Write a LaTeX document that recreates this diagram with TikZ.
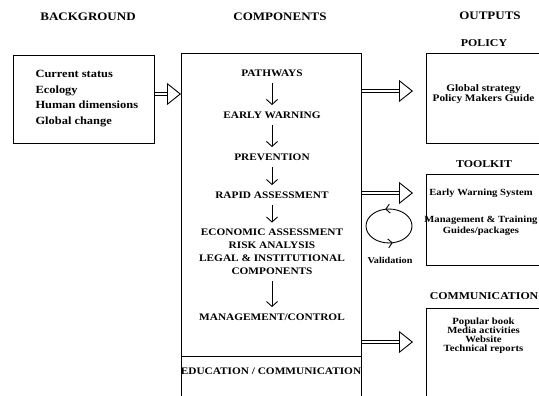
\documentclass[tikz,border=0pt]{standalone}
\usepackage{fontspec}
\setmainfont{Liberation Serif}[FakeStretch=1.13]
\usetikzlibrary{arrows.meta,positioning,shapes.geometric,decorations.markings}
\tikzset{
  box/.style      = {draw, line width=1.1pt, inner sep=0pt, anchor=north west},
  colhead/.style  = {font=\bfseries\fontsize{11.5}{13}\selectfont},
  subhead/.style  = {font=\bfseries\fontsize{10.5}{12}\selectfont},
  stage/.style    = {font=\bfseries\fontsize{10}{13}\selectfont, align=center},
  bgtext/.style   = {font=\bfseries\fontsize{11}{15.5}\selectfont, align=left, anchor=west},
  outtext/.style  = {font=\bfseries\fontsize{10}{10.5}\selectfont, align=center},
  flow/.style     = {-{Straight Barb[length=5pt,width=11pt]}, line width=0.9pt, shorten <=3pt, shorten >=3pt},
  shaft/.style    = {double, double distance=2.2pt, line width=0.7pt, shorten >=14pt},
  headtip/.style  = {white, line width=0.4pt, -{Triangle[open, color=black, length=14pt, width=22pt, line width=0.9pt]}},
  cycle/.style    = {line width=0.9pt, postaction={decorate}}
}

\begin{document}
\begin{tikzpicture}[x=1pt, y=-1pt]
    \useasboundingbox (0,0) rectangle (539,396);
    \clip (0,0) rectangle (539,396);
    % Column headings
    \node[colhead] (hbg) at (88,17) {BACKGROUND};
    \node[colhead] (hcomp) at (280,17) {COMPONENTS};
    \node[colhead] (hout) at (490,16) {OUTPUTS};
    % Background
    \node[box, minimum width=141pt, minimum height=88pt] (bg) at (13,55) {};
    \node[bgtext] (bgitems) at (32,98.5) {Current status\\Ecology\\Human dimensions\\Global change};
    % Components
    \node[box, minimum width=180pt, minimum height=303pt] (comp) at (181,53) {};
    \node[box, minimum width=180pt, minimum height=60pt] (edubox) at (181,356) {};
    \node[stage] (path) at (272,73) {PATHWAYS};
    \node[stage] (early) at (272,115) {EARLY WARNING};
    \node[stage] (prev) at (272,157) {PREVENTION};
    \node[stage] (rapid) at (272,195) {RAPID ASSESSMENT};
    \node[stage] (econ) at (272,252) {ECONOMIC ASSESSMENT\\RISK ANALYSIS\\LEGAL \& INSTITUTIONAL\\COMPONENTS};
    \node[stage] (manage) at (272,317) {MANAGEMENT/CONTROL};
    \node[stage] (edu) at (271,371) {EDUCATION / COMMUNICATION};
    \draw[flow] (path) -- (early);
    \draw[flow] (early) -- (prev);
    \draw[flow] (prev) -- (rapid);
    \draw[flow] (rapid) -- (econ);
    \draw[flow] (econ) -- (manage);
    % Outputs
    \node[box, minimum width=115pt, minimum height=90pt] (pol) at (426,53) {};
    \node[box, minimum width=115pt, minimum height=91pt] (tool) at (426,174) {};
    \node[box, minimum width=115pt, minimum height=100pt] (comm) at (426,308) {};
    \node[subhead, above=3pt of pol] (hpol) {POLICY};
    \node[subhead, above=3pt of tool] (htool) {TOOLKIT};
    \node[subhead, above=5pt of comm] (hcomm) {COMMUNICATION};
    \node[outtext] (poltext) at (483.5,94) {Global strategy\\Policy Makers Guide};
    \node[outtext, font=\bfseries\fontsize{9.4}{10.5}\selectfont] (tooltext) at (481,212) {Early Warning System\\[17pt]Management \& Training\\Guides/packages};
    \node[outtext, font=\bfseries\fontsize{9.5}{9}\selectfont] (commtext) at (483.5,336) {Popular book\\Media activities\\Website\\Technical reports};
    % Validation loop
    \draw[cycle, decoration={markings,
        mark=at position 0.28 with {\arrow{Straight Barb[length=4pt,width=9pt]}},
        mark=at position 0.78 with {\arrow{Straight Barb[length=4pt,width=9pt]}}}]
      (389,226) ellipse [x radius=23pt, y radius=17pt];
    \node[outtext, font=\bfseries\fontsize{9}{10}\selectfont] (valid) at (390,260) {Validation};
    % Feeds
    \coordinate (compin) at (181,94);
    \coordinate (polin) at (413,91);
    \coordinate (toolin) at (413,193);
    \coordinate (commin) at (413,342);
    \draw[headtip] (bg.east |- compin) -- (compin);
    \draw[shaft] (bg.east |- compin) -- (compin);
    \draw[headtip] (comp.east |- polin) -- (polin);
    \draw[shaft] (comp.east |- polin) -- (polin);
    \draw[headtip] (comp.east |- toolin) -- (toolin);
    \draw[shaft] (comp.east |- toolin) -- (toolin);
    \draw[headtip] (comp.east |- commin) -- (commin);
    \draw[shaft] (comp.east |- commin) -- (commin);
  \end{tikzpicture}
\end{document}
